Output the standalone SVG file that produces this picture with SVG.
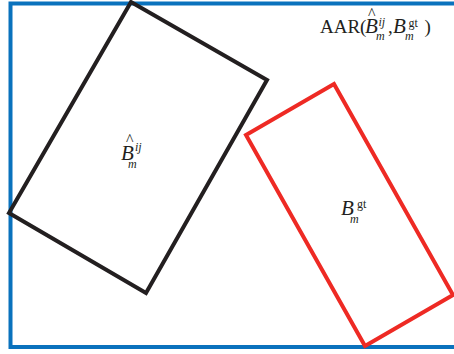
<svg xmlns="http://www.w3.org/2000/svg" width="454" height="354" viewBox="0 0 454 354">
<style>
.box{fill:none;stroke-width:4;stroke-linejoin:miter}
.t{font-family:"Liberation Serif","Times New Roman",serif;fill:#231f20;font-size:19px}
.bi{font-size:21px;font-style:italic}
.sup{font-size:12px;font-style:italic}
.up{font-size:12px}
.hat{font-size:16px}
</style>
<rect width="454" height="354" fill="#ffffff"/>
<g id="frame">
<rect class="box" x="10.5" y="3.5" width="460" height="343.5" stroke="#0a72bd"/>
<text class="t" x="320" y="33">AAR(<tspan class="bi" x="365" y="33">B</tspan><tspan class="hat" x="368" y="19">^</tspan><tspan class="sup" x="378.5" y="26">ij</tspan><tspan class="sup" x="376" y="40">m</tspan><tspan x="388" y="33">,</tspan><tspan class="bi" x="393" y="33">B</tspan><tspan class="up" x="408.5" y="27">gt</tspan><tspan class="sup" x="405" y="40">m</tspan><tspan x="424.5" y="33">)</tspan></text>
</g>
<g id="box-pred">
<polygon class="box" stroke="#231f20" points="9,213 131,2 267,80 146,293"/>
<text class="t" x="121" y="160"><tspan class="bi">B</tspan><tspan class="hat" x="126" y="145">^</tspan><tspan class="sup" x="135" y="151">ij</tspan><tspan class="sup" x="128" y="168">m</tspan></text>
</g>
<g id="box-gt">
<polygon class="box" stroke="#ee2a24" points="246,135 334,84 453,295 365,346"/>
<text class="t" x="341" y="215"><tspan class="bi">B</tspan><tspan class="up" x="357" y="208">gt</tspan><tspan class="sup" x="350" y="223">m</tspan></text>
</g>
<g id="connectors"/>
</svg>
